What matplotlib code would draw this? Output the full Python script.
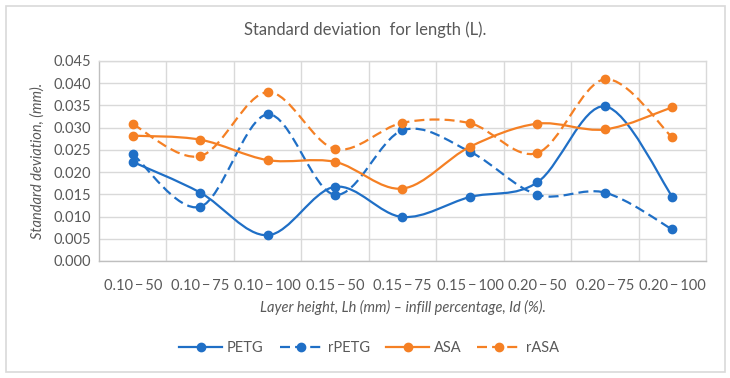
import matplotlib
matplotlib.use("Agg")
import matplotlib.pyplot as plt
import numpy as np
from matplotlib.path import Path
from matplotlib.patches import PathPatch, Rectangle
from matplotlib.lines import Line2D

plt.rcParams['font.family'] = ['Lato', 'DejaVu Sans']

# data
categories = ["0.10\u2009\u2212\u200950", "0.10\u2009\u2212\u200975", "0.10\u2009\u2212\u2009100",
              "0.15\u2009\u2212\u200950", "0.15\u2009\u2212\u200975", "0.15\u2009\u2212\u2009100",
              "0.20\u2009\u2212\u200950", "0.20\u2009\u2212\u200975", "0.20\u2009\u2212\u2009100"]
petg = [0.0223, 0.0154, 0.0058, 0.0167, 0.0099, 0.0144, 0.0177, 0.0348, 0.0145]
rpetg = [0.0241, 0.0122, 0.0330, 0.0149, 0.0294, 0.0246, 0.0149, 0.0154, 0.0071]
asa = [0.0282, 0.0273, 0.0227, 0.0223, 0.0163, 0.0257, 0.0309, 0.0296, 0.0346]
rasa = [0.0308, 0.0236, 0.0380, 0.0252, 0.0311, 0.0310, 0.0243, 0.0409, 0.0278]

BLUE = '#1f6fc6'
ORANGE = '#f58024'
GREY = '#595959'


def smooth_path(xs, ys):
    # excel style smoothed line -> cubic bezier segments
    pts = np.column_stack([xs, ys]).astype(float)
    n = len(pts)
    verts = [pts[0]]
    codes = [Path.MOVETO]
    for i in range(n - 1):
        p0 = pts[max(i - 1, 0)]
        p1 = pts[i]
        p2 = pts[i + 1]
        p3 = pts[min(i + 2, n - 1)]
        c1 = p1 + (p2 - p0) / 6.0
        c2 = p2 - (p3 - p1) / 6.0
        verts += [c1, c2, p2]
        codes += [Path.CURVE4] * 3
    return Path(verts, codes)


fig = plt.figure(figsize=(7.3, 3.78), dpi=100)
fig.patches.append(Rectangle((5.5 / 730, 1 - 372 / 378), 719 / 730, 366 / 378,
                             transform=fig.transFigure, fill=False,
                             edgecolor='#d9d9d9', linewidth=1.2))
ax = fig.add_axes([99 / 730, 1 - 261 / 378, 607 / 730, 200 / 378])

x = np.arange(len(categories))
series = [(petg, BLUE, '-', 'PETG'), (rpetg, BLUE, '--', 'rPETG'),
          (asa, ORANGE, '-', 'ASA'), (rasa, ORANGE, '--', 'rASA')]
handles = []
for vals, col, ls, name in series:
    dash = (0, (4.5, 2.3)) if ls == '--' else '-'
    patch = PathPatch(smooth_path(x, vals), fill=False, edgecolor=col,
                      linewidth=1.6, linestyle=dash, zorder=3, capstyle='butt')
    ax.add_patch(patch)
    ax.plot(x, vals, linestyle='none', marker='o', markersize=6,
            color=col, zorder=4)
    handles.append(Line2D([0], [0], color=col, linewidth=1.6, linestyle=dash,
                          marker='o', markersize=6, label=name))

ax.set_xlim(-0.5, len(categories) - 0.5)
ax.set_ylim(0, 0.045)
ax.set_yticks(np.arange(0, 0.0451, 0.005))
ax.set_yticklabels([f"{v:.3f}" for v in np.arange(0, 0.0451, 0.005)])
ax.set_xticks(x)
ax.set_xticklabels(categories)
ax.set_xticks(np.arange(0.5, len(categories) - 0.5, 1), minor=True)
ax.tick_params(which='both', length=0, labelsize=10.5, colors=GREY, pad=6)
ax.tick_params(axis='x', pad=13)
ax.grid(axis='y', color='#d9d9d9', linewidth=1)
ax.grid(axis='x', which='minor', color='#d9d9d9', linewidth=1)
for s in ax.spines.values():
    s.set_color('#d9d9d9')
    s.set_linewidth(1)
ax.spines['left'].set_color('#bfbfbf')
ax.spines['bottom'].set_color('#bfbfbf')
ax.set_axisbelow(True)

ax.set_ylabel('Standard deviation, (mm).', fontsize=10.5, style='italic', color=GREY, labelpad=6)
ax.set_xlabel('Layer height, Lh (mm) \u2013 infill percentage, Id (%).', fontsize=10.5,
              style='italic', color=GREY, labelpad=5)
fig.text(0.5, 1 - 30 / 378, 'Standard deviation  for length (L).', ha='center', va='center',
         fontsize=12, color=GREY)

fig.legend(handles=handles, loc='center', bbox_to_anchor=(0.505, 1 - 348 / 378), ncol=4,
           frameon=False, fontsize=10.5, handlelength=3.0, columnspacing=1.1,
           handletextpad=0.3, labelcolor=GREY)

fig.savefig('out.png', dpi=100)
